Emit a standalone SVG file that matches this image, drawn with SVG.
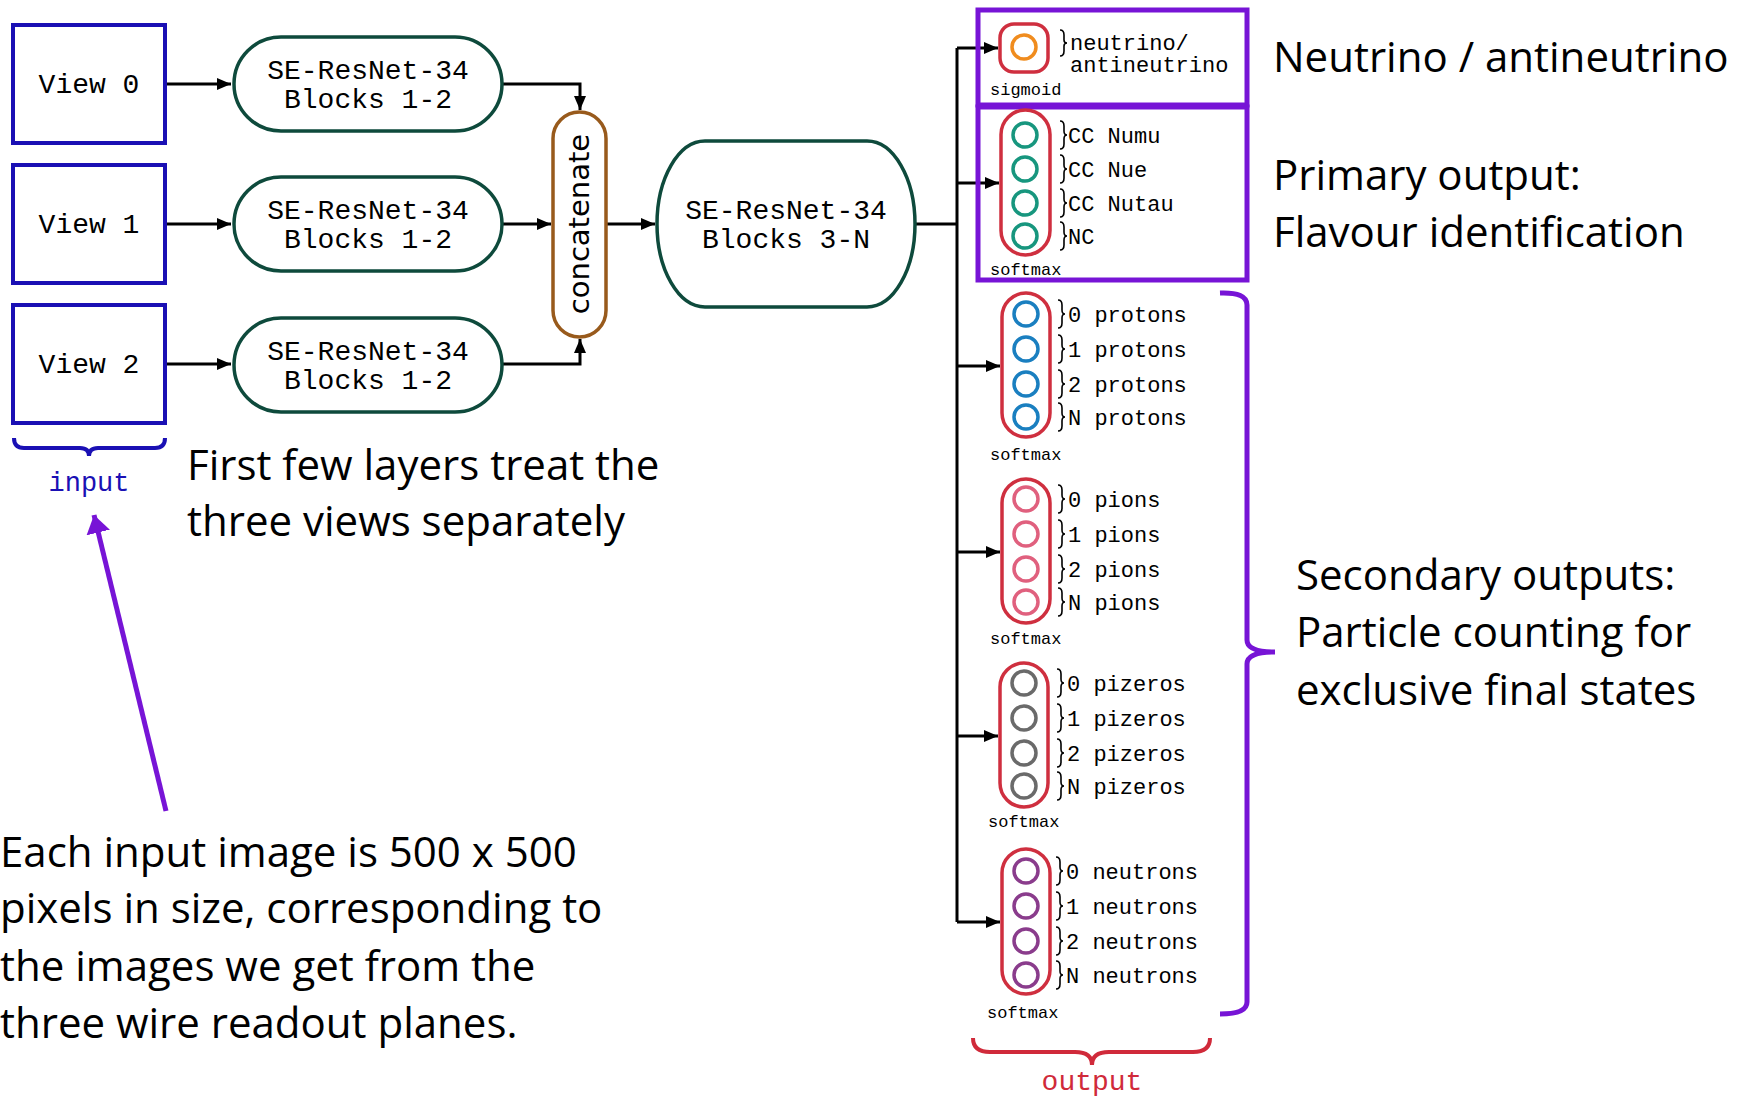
<svg xmlns="http://www.w3.org/2000/svg" width="1749" height="1096" viewBox="0 0 1749 1096">
<style>
.mono{font-family:"Liberation Mono","DejaVu Sans Mono",monospace;fill:#000}
.big{font-family:"Liberation Mono",monospace;font-size:28px;text-anchor:middle}
.lbl{font-family:"Liberation Mono",monospace;font-size:22px}
.act{font-family:"Liberation Mono",monospace;font-size:17px}
.note{font-family:"Open Sans","Lato",sans-serif;font-size:42px;fill:#000}
.view{fill:#fff;stroke:#1a10b4;stroke-width:4}
.se{fill:#fff;stroke:#0e4a3c;stroke-width:3.5}
.pill{fill:#fff;stroke:#cf2f3f;stroke-width:3.5}
.conn{fill:none;stroke:#000;stroke-width:3}
.tick{fill:none;stroke:#000;stroke-width:1.6}
.neu{fill:none;stroke-width:3.5}
.purple{fill:none;stroke:#7714d6;stroke-width:5}
</style>
<defs>
<marker id="ah" viewBox="0 0 14 12" refX="14" refY="6" markerWidth="14" markerHeight="12" markerUnits="userSpaceOnUse" orient="auto"><path d="M0,0 L14,6 L0,12 z" fill="#000"/></marker>
<marker id="ahp" viewBox="0 0 18 24" refX="18" refY="12" markerWidth="18" markerHeight="24" markerUnits="userSpaceOnUse" orient="auto"><path d="M0,0 L18,12 L0,24 z" fill="#7714d6"/></marker>
</defs>
<rect width="1749" height="1096" fill="#fff"/>

<g id="connectors">
<path class="conn" d="M166,84 H231" marker-end="url(#ah)"/>
<path class="conn" d="M166,224 H231" marker-end="url(#ah)"/>
<path class="conn" d="M166,364 H231" marker-end="url(#ah)"/>
<path class="conn" d="M502,84 H580 V110" marker-end="url(#ah)"/>
<path class="conn" d="M502,224 H551" marker-end="url(#ah)"/>
<path class="conn" d="M502,364 H580 V339" marker-end="url(#ah)"/>
<path class="conn" d="M606,224 H655" marker-end="url(#ah)"/>
<path class="conn" d="M915,224 H957"/>
<path class="conn" d="M957,48 V922"/>
<path class="conn" d="M957,48 H998" marker-end="url(#ah)"/>
<path class="conn" d="M957,183 H999" marker-end="url(#ah)"/>
<path class="conn" d="M957,366 H1000" marker-end="url(#ah)"/>
<path class="conn" d="M957,552 H1000" marker-end="url(#ah)"/>
<path class="conn" d="M957,736 H998" marker-end="url(#ah)"/>
<path class="conn" d="M957,922 H1000" marker-end="url(#ah)"/>
<path d="M166,811 L94,515" fill="none" stroke="#7714d6" stroke-width="5" marker-end="url(#ahp)"/>
</g>

<g id="view0"><rect class="view" x="13" y="25" width="152" height="118"/><text class="big" x="89" y="93">View 0</text></g>
<g id="view1"><rect class="view" x="13" y="165" width="152" height="118"/><text class="big" x="89" y="233">View 1</text></g>
<g id="view2"><rect class="view" x="13" y="305" width="152" height="118"/><text class="big" x="89" y="373">View 2</text></g>

<g id="input-brace">
<path d="M14,438 Q14,448 24,448 L80,448 Q89,448 89,456 Q89,448 98,448 L155,448 Q165,448 165,438" fill="none" stroke="#1a10b4" stroke-width="4"/>
<text x="89" y="491" font-family="Liberation Mono,monospace" font-size="27" fill="#1a10b4" text-anchor="middle">input</text>
</g>

<g id="se0"><rect class="se" x="234" y="37" width="268" height="94" rx="47"/><text class="big" x="368" y="79">SE-ResNet-34</text><text class="big" x="368" y="108">Blocks 1-2</text></g>
<g id="se1"><rect class="se" x="234" y="177" width="268" height="94" rx="47"/><text class="big" x="368" y="219">SE-ResNet-34</text><text class="big" x="368" y="248">Blocks 1-2</text></g>
<g id="se2"><rect class="se" x="234" y="318" width="268" height="94" rx="47"/><text class="big" x="368" y="360">SE-ResNet-34</text><text class="big" x="368" y="389">Blocks 1-2</text></g>

<g id="concatenate"><rect x="553" y="112" width="53" height="225" rx="26.5" fill="#fff" stroke="#985a1c" stroke-width="3.5"/>
<text transform="translate(589,224) rotate(-90)" font-family="DejaVu Sans,sans-serif" font-size="29" text-anchor="middle">concatenate</text></g>

<g id="se3"><rect class="se" x="657" y="141" width="258" height="166" rx="48" ry="83"/><text class="big" x="786" y="219">SE-ResNet-34</text><text class="big" x="786" y="248">Blocks 3-N</text></g>

<g id="primary-boxes">
<rect class="purple" x="978" y="10" width="269" height="95"/>
<rect class="purple" x="978" y="107" width="269" height="173"/>
</g>

<g id="sigmoid-head">
<rect class="pill" x="1000" y="24" width="48" height="48" rx="14"/>
<circle class="neu" cx="1024" cy="47" r="12" stroke="#f08c1e"/>
<path class="tick" d="M1060,30 Q1064,30 1064,35 L1064,40 Q1064,43 1067,43 Q1064,43 1064,46 L1064,51 Q1064,56 1060,56"/>
<text class="lbl" x="1070" y="50">neutrino/</text>
<text class="lbl" x="1070" y="72">antineutrino</text>
<text class="act" x="990" y="95">sigmoid</text>
</g>

<g id="flavour-head">
<rect class="pill" x="1001" y="110" width="49" height="145" rx="24.5"/>
<g stroke="#17967e"><circle class="neu" cx="1025" cy="135" r="12"/><circle class="neu" cx="1025" cy="169" r="12"/><circle class="neu" cx="1025" cy="203" r="12"/><circle class="neu" cx="1025" cy="236" r="12"/></g>
<path class="tick" d="M1060,121 Q1064,121 1064,126 L1064,131 Q1064,135 1067,135 Q1064,135 1064,139 L1064,144 Q1064,149 1060,149"/>
<path class="tick" d="M1060,155 Q1064,155 1064,160 L1064,165 Q1064,169 1067,169 Q1064,169 1064,173 L1064,178 Q1064,183 1060,183"/>
<path class="tick" d="M1060,189 Q1064,189 1064,194 L1064,199 Q1064,203 1067,203 Q1064,203 1064,207 L1064,212 Q1064,217 1060,217"/>
<path class="tick" d="M1060,222 Q1064,222 1064,227 L1064,232 Q1064,236 1067,236 Q1064,236 1064,240 L1064,245 Q1064,250 1060,250"/>
<text class="lbl" x="1068" y="143">CC Numu</text>
<text class="lbl" x="1068" y="177">CC Nue</text>
<text class="lbl" x="1068" y="211">CC Nutau</text>
<text class="lbl" x="1068" y="244">NC</text>
<text class="act" x="990" y="275">softmax</text>
</g>

<g id="protons-head">
<rect class="pill" x="1002" y="293" width="48" height="144" rx="24"/>
<g stroke="#1a7fc0"><circle class="neu" cx="1026" cy="314" r="12"/><circle class="neu" cx="1026" cy="349" r="12"/><circle class="neu" cx="1026" cy="384" r="12"/><circle class="neu" cx="1026" cy="417" r="12"/></g>
<path class="tick" d="M1058,300 Q1062,300 1062,305 L1062,310 Q1062,314 1065,314 Q1062,314 1062,318 L1062,323 Q1062,328 1058,328"/>
<path class="tick" d="M1058,335 Q1062,335 1062,340 L1062,345 Q1062,349 1065,349 Q1062,349 1062,353 L1062,358 Q1062,363 1058,363"/>
<path class="tick" d="M1058,370 Q1062,370 1062,375 L1062,380 Q1062,384 1065,384 Q1062,384 1062,388 L1062,393 Q1062,398 1058,398"/>
<path class="tick" d="M1058,403 Q1062,403 1062,408 L1062,413 Q1062,417 1065,417 Q1062,417 1062,421 L1062,426 Q1062,431 1058,431"/>
<text class="lbl" x="1068" y="322">0 protons</text>
<text class="lbl" x="1068" y="357">1 protons</text>
<text class="lbl" x="1068" y="392">2 protons</text>
<text class="lbl" x="1068" y="425">N protons</text>
<text class="act" x="990" y="460">softmax</text>
</g>

<g id="pions-head">
<rect class="pill" x="1002" y="479" width="48" height="144" rx="24"/>
<g stroke="#e0607e"><circle class="neu" cx="1026" cy="499" r="12"/><circle class="neu" cx="1026" cy="534" r="12"/><circle class="neu" cx="1026" cy="569" r="12"/><circle class="neu" cx="1026" cy="602" r="12"/></g>
<path class="tick" d="M1058,485 Q1062,485 1062,490 L1062,495 Q1062,499 1065,499 Q1062,499 1062,503 L1062,508 Q1062,513 1058,513"/>
<path class="tick" d="M1058,520 Q1062,520 1062,525 L1062,530 Q1062,534 1065,534 Q1062,534 1062,538 L1062,543 Q1062,548 1058,548"/>
<path class="tick" d="M1058,555 Q1062,555 1062,560 L1062,565 Q1062,569 1065,569 Q1062,569 1062,573 L1062,578 Q1062,583 1058,583"/>
<path class="tick" d="M1058,588 Q1062,588 1062,593 L1062,598 Q1062,602 1065,602 Q1062,602 1062,606 L1062,611 Q1062,616 1058,616"/>
<text class="lbl" x="1068" y="507">0 pions</text>
<text class="lbl" x="1068" y="542">1 pions</text>
<text class="lbl" x="1068" y="577">2 pions</text>
<text class="lbl" x="1068" y="610">N pions</text>
<text class="act" x="990" y="644">softmax</text>
</g>

<g id="pizeros-head">
<rect class="pill" x="1000" y="663" width="48" height="144" rx="24"/>
<g stroke="#6a6a6a"><circle class="neu" cx="1024" cy="683" r="12"/><circle class="neu" cx="1024" cy="718" r="12"/><circle class="neu" cx="1024" cy="753" r="12"/><circle class="neu" cx="1024" cy="786" r="12"/></g>
<path class="tick" d="M1057,669 Q1061,669 1061,674 L1061,679 Q1061,683 1064,683 Q1061,683 1061,687 L1061,692 Q1061,697 1057,697"/>
<path class="tick" d="M1057,704 Q1061,704 1061,709 L1061,714 Q1061,718 1064,718 Q1061,718 1061,722 L1061,727 Q1061,732 1057,732"/>
<path class="tick" d="M1057,739 Q1061,739 1061,744 L1061,749 Q1061,753 1064,753 Q1061,753 1061,757 L1061,762 Q1061,767 1057,767"/>
<path class="tick" d="M1057,772 Q1061,772 1061,777 L1061,782 Q1061,786 1064,786 Q1061,786 1061,790 L1061,795 Q1061,800 1057,800"/>
<text class="lbl" x="1067" y="691">0 pizeros</text>
<text class="lbl" x="1067" y="726">1 pizeros</text>
<text class="lbl" x="1067" y="761">2 pizeros</text>
<text class="lbl" x="1067" y="794">N pizeros</text>
<text class="act" x="988" y="827">softmax</text>
</g>

<g id="neutrons-head">
<rect class="pill" x="1002" y="849" width="48" height="145" rx="24"/>
<g stroke="#8a3c8c"><circle class="neu" cx="1026" cy="871" r="12"/><circle class="neu" cx="1026" cy="906" r="12"/><circle class="neu" cx="1026" cy="941" r="12"/><circle class="neu" cx="1026" cy="975" r="12"/></g>
<path class="tick" d="M1056,857 Q1060,857 1060,862 L1060,867 Q1060,871 1063,871 Q1060,871 1060,875 L1060,880 Q1060,885 1056,885"/>
<path class="tick" d="M1056,892 Q1060,892 1060,897 L1060,902 Q1060,906 1063,906 Q1060,906 1060,910 L1060,915 Q1060,920 1056,920"/>
<path class="tick" d="M1056,927 Q1060,927 1060,932 L1060,937 Q1060,941 1063,941 Q1060,941 1060,945 L1060,950 Q1060,955 1056,955"/>
<path class="tick" d="M1056,961 Q1060,961 1060,966 L1060,971 Q1060,975 1063,975 Q1060,975 1060,979 L1060,984 Q1060,989 1056,989"/>
<text class="lbl" x="1066" y="879">0 neutrons</text>
<text class="lbl" x="1066" y="914">1 neutrons</text>
<text class="lbl" x="1066" y="949">2 neutrons</text>
<text class="lbl" x="1066" y="983">N neutrons</text>
<text class="act" x="987" y="1018">softmax</text>
</g>

<g id="secondary-brace">
<path class="purple" d="M1220,293 Q1247,292 1247,305 L1247,640 Q1247,652 1275,652 Q1247,652 1247,664 L1247,1002 Q1247,1014 1220,1014"/>
</g>

<g id="output-brace">
<path d="M973,1038 Q973,1052 990,1052 L1075,1052 Q1092,1052 1092,1065 Q1092,1052 1109,1052 L1193,1052 Q1210,1052 1210,1038" fill="none" stroke="#d02a3a" stroke-width="4"/>
<text x="1092" y="1090" font-family="Liberation Mono,monospace" font-size="28" fill="#d02a3a" text-anchor="middle">output</text>
</g>

<g id="annotations">
<text class="note" x="1273" y="72">Neutrino / antineutrino</text>
<text class="note" x="1273" y="190">Primary output:</text>
<text class="note" x="1273" y="247">Flavour identification</text>
<text class="note" x="1296" y="590">Secondary outputs:</text>
<text class="note" x="1296" y="647">Particle counting for</text>
<text class="note" x="1296" y="705">exclusive final states</text>
<text class="note" x="187" y="480">First few layers treat the</text>
<text class="note" x="187" y="536">three views separately</text>
<text class="note" x="0" y="867">Each input image is 500 x 500</text>
<text class="note" x="0" y="923">pixels in size, corresponding to</text>
<text class="note" x="0" y="981">the images we get from the</text>
<text class="note" x="0" y="1038">three wire readout planes.</text>
</g>
</svg>
